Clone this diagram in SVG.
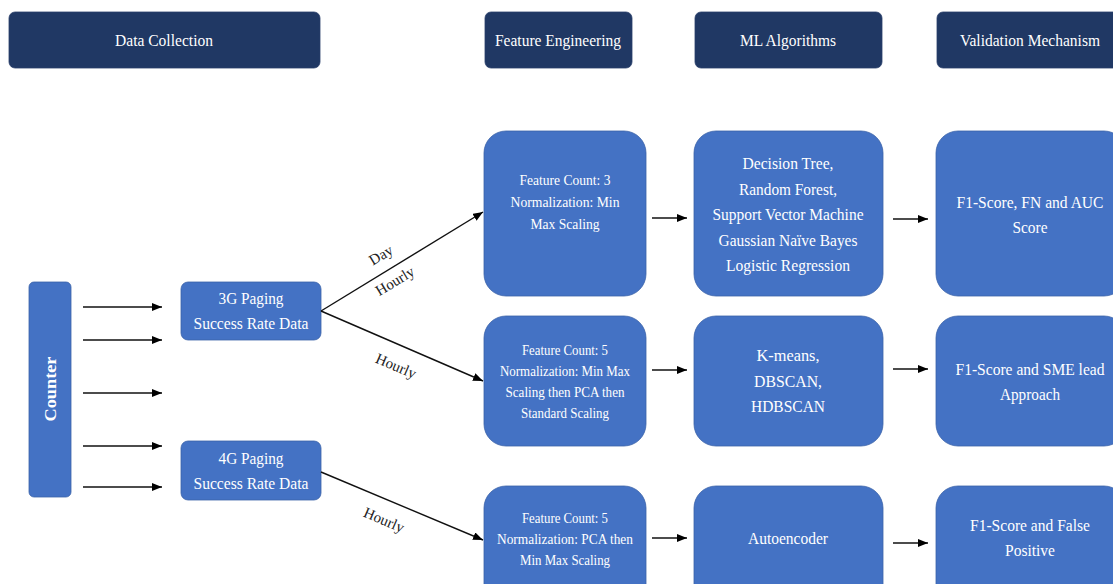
<svg xmlns="http://www.w3.org/2000/svg" width="1113" height="584" viewBox="0 0 1113 584">
<style>
.hdr{fill:#203864;stroke:#2a3f6b;stroke-width:0.8}
.node{fill:#4472C4;stroke:#3a62a8;stroke-width:0.8}
text{font-family:"Liberation Serif","Times New Roman",serif;text-anchor:middle}
.ht{fill:#ffffff;font-size:17px}
.nt{fill:#ffffff;font-size:17px}
.st{fill:#ffffff;font-size:14px}
.lbl{fill:#222222;font-size:15px}
.conn line{stroke:#111111;stroke-width:1.4;marker-end:url(#ah)}
</style>
<defs>
<marker id="ah" markerUnits="userSpaceOnUse" markerWidth="10" markerHeight="8" refX="10" refY="4" orient="auto">
<path d="M0,0 L10,4 L0,8 z" fill="#000000"/>
</marker>
</defs>
<rect width="1113" height="584" fill="#ffffff"/>

<g id="hdr-data-collection">
<rect class="hdr" x="9" y="12" width="311" height="56" rx="6"/>
<text class="ht" x="164" y="46" textLength="98" lengthAdjust="spacingAndGlyphs">Data Collection</text>
</g>
<g id="hdr-feature-engineering">
<rect class="hdr" x="485" y="12" width="147" height="56" rx="6"/>
<text class="ht" x="558" y="46" textLength="126" lengthAdjust="spacingAndGlyphs">Feature Engineering</text>
</g>
<g id="hdr-ml-algorithms">
<rect class="hdr" x="695" y="12" width="187" height="56" rx="6"/>
<text class="ht" x="788" y="46" textLength="96" lengthAdjust="spacingAndGlyphs">ML Algorithms</text>
</g>
<g id="hdr-validation">
<rect class="hdr" x="937" y="12" width="186" height="56" rx="6"/>
<text class="ht" x="1030" y="46" textLength="140" lengthAdjust="spacingAndGlyphs">Validation Mechanism</text>
</g>

<g id="counter">
<rect class="node" x="29" y="282" width="42" height="215" rx="5"/>
<text class="ht" transform="translate(56,389) rotate(-90)" x="0" y="0" font-weight="bold" textLength="65" lengthAdjust="spacingAndGlyphs">Counter</text>
</g>

<g id="paging-3g">
<rect class="node" x="181" y="282" width="140" height="58" rx="7"/>
<text class="nt" x="251" y="304" textLength="65" lengthAdjust="spacingAndGlyphs">3G Paging</text>
<text class="nt" x="251" y="329" textLength="115" lengthAdjust="spacingAndGlyphs">Success Rate Data</text>
</g>
<g id="paging-4g">
<rect class="node" x="181" y="441" width="140" height="59" rx="7"/>
<text class="nt" x="251" y="464" textLength="65" lengthAdjust="spacingAndGlyphs">4G Paging</text>
<text class="nt" x="251" y="489" textLength="115" lengthAdjust="spacingAndGlyphs">Success Rate Data</text>
</g>

<g id="fe-1">
<rect class="node" x="484" y="131" width="162" height="165" rx="22"/>
<text class="st" x="565" y="185" textLength="91" lengthAdjust="spacingAndGlyphs">Feature Count: 3</text>
<text class="st" x="565" y="207" textLength="109" lengthAdjust="spacingAndGlyphs">Normalization: Min</text>
<text class="st" x="565" y="229" textLength="69" lengthAdjust="spacingAndGlyphs">Max Scaling</text>
</g>
<g id="fe-2">
<rect class="node" x="484" y="316" width="162" height="130" rx="22"/>
<text class="st" x="565" y="355" textLength="86" lengthAdjust="spacingAndGlyphs">Feature Count: 5</text>
<text class="st" x="565" y="376" textLength="130" lengthAdjust="spacingAndGlyphs">Normalization: Min Max</text>
<text class="st" x="565" y="397" textLength="119" lengthAdjust="spacingAndGlyphs">Scaling then PCA then</text>
<text class="st" x="565" y="418" textLength="88" lengthAdjust="spacingAndGlyphs">Standard Scaling</text>
</g>
<g id="fe-3">
<rect class="node" x="484" y="486" width="162" height="120" rx="22"/>
<text class="st" x="565" y="523" textLength="86" lengthAdjust="spacingAndGlyphs">Feature Count: 5</text>
<text class="st" x="565" y="544" textLength="136" lengthAdjust="spacingAndGlyphs">Normalization:  PCA then</text>
<text class="st" x="565" y="565" textLength="90" lengthAdjust="spacingAndGlyphs">Min Max Scaling</text>
</g>

<g id="ml-1">
<rect class="node" x="694" y="131" width="189" height="165" rx="22"/>
<text class="nt" x="788" y="169" textLength="91" lengthAdjust="spacingAndGlyphs">Decision Tree,</text>
<text class="nt" x="788" y="195" textLength="98" lengthAdjust="spacingAndGlyphs">Random Forest,</text>
<text class="nt" x="788" y="220" textLength="151" lengthAdjust="spacingAndGlyphs">Support Vector Machine</text>
<text class="nt" x="788" y="246" textLength="139" lengthAdjust="spacingAndGlyphs">Gaussian Naïve Bayes</text>
<text class="nt" x="788" y="271" textLength="124" lengthAdjust="spacingAndGlyphs">Logistic Regression</text>
</g>
<g id="ml-2">
<rect class="node" x="694" y="316" width="189" height="130" rx="22"/>
<text class="nt" x="788" y="361" textLength="63" lengthAdjust="spacingAndGlyphs">K-means,</text>
<text class="nt" x="788" y="387" textLength="68" lengthAdjust="spacingAndGlyphs">DBSCAN,</text>
<text class="nt" x="788" y="412" textLength="74" lengthAdjust="spacingAndGlyphs">HDBSCAN</text>
</g>
<g id="ml-3">
<rect class="node" x="694" y="486" width="189" height="120" rx="22"/>
<text class="nt" x="788" y="544" textLength="80" lengthAdjust="spacingAndGlyphs">Autoencoder</text>
</g>

<g id="val-1">
<rect class="node" x="936" y="131" width="190" height="165" rx="22"/>
<text class="nt" x="1030" y="208" textLength="147" lengthAdjust="spacingAndGlyphs">F1-Score, FN and AUC</text>
<text class="nt" x="1030" y="233" textLength="35" lengthAdjust="spacingAndGlyphs">Score</text>
</g>
<g id="val-2">
<rect class="node" x="936" y="316" width="190" height="130" rx="22"/>
<text class="nt" x="1030" y="375" textLength="149" lengthAdjust="spacingAndGlyphs">F1-Score and SME lead</text>
<text class="nt" x="1030" y="400" textLength="60" lengthAdjust="spacingAndGlyphs">Approach</text>
</g>
<g id="val-3">
<rect class="node" x="936" y="486" width="190" height="120" rx="22"/>
<text class="nt" x="1030" y="531" textLength="120" lengthAdjust="spacingAndGlyphs">F1-Score and False</text>
<text class="nt" x="1030" y="556" textLength="50" lengthAdjust="spacingAndGlyphs">Positive</text>
</g>

<g id="connectors" class="conn">
<line x1="83" y1="307" x2="162" y2="307"/>
<line x1="83" y1="340" x2="162" y2="340"/>
<line x1="83" y1="393" x2="162" y2="393"/>
<line x1="83" y1="446" x2="162" y2="446"/>
<line x1="83" y1="487" x2="162" y2="487"/>
<line x1="321" y1="311" x2="483" y2="212"/>
<line x1="321" y1="311" x2="483" y2="381"/>
<line x1="321" y1="472" x2="483" y2="540"/>
<line x1="652" y1="218" x2="687" y2="218"/>
<line x1="652" y1="370" x2="687" y2="370"/>
<line x1="652" y1="538" x2="687" y2="538"/>
<line x1="893" y1="219" x2="928" y2="219"/>
<line x1="893" y1="369" x2="928" y2="369"/>
<line x1="893" y1="543" x2="928" y2="543"/>
</g>

<g id="labels">
<text class="lbl" transform="translate(381,255) rotate(-31)" y="5">Day</text>
<text class="lbl" transform="translate(395,281) rotate(-31)" y="5">Hourly</text>
<text class="lbl" transform="translate(396,366) rotate(23)" y="5">Hourly</text>
<text class="lbl" transform="translate(384,520) rotate(23)" y="5">Hourly</text>
</g>
</svg>
